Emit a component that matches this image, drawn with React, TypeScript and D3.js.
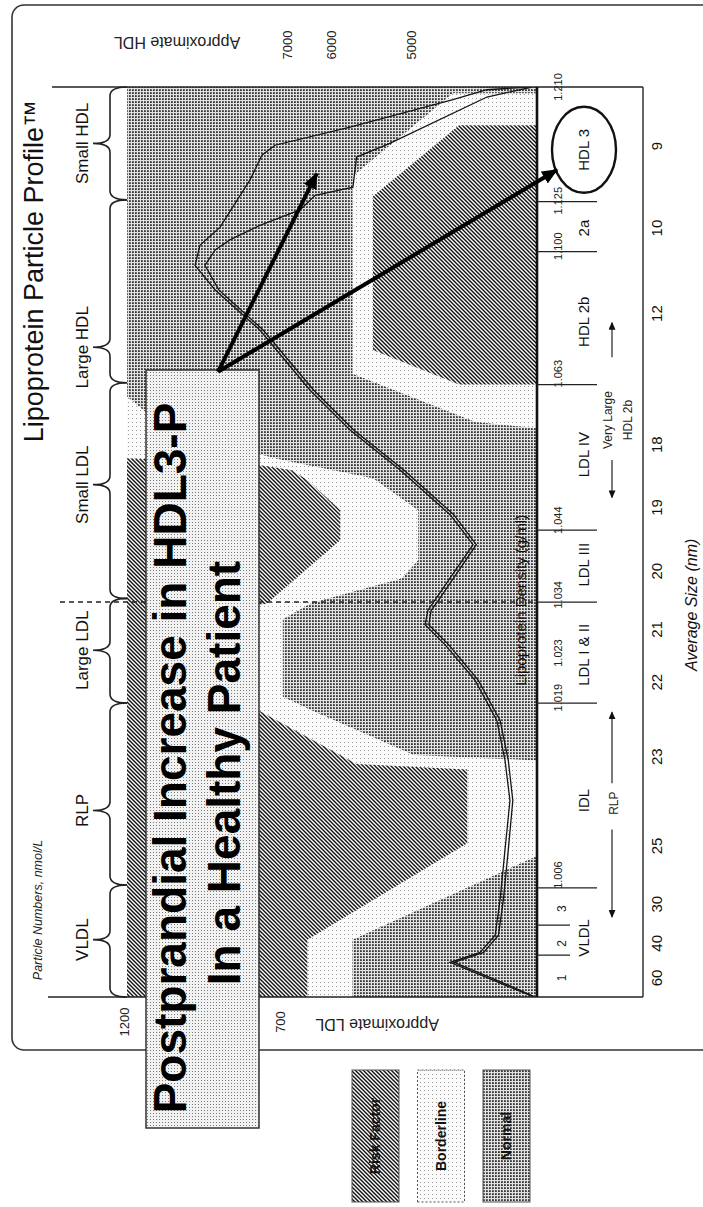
import React from 'react';
import * as d3 from 'd3';

// The figure is printed on its side. Everything below is laid out in a landscape
// frame (u along the size axis, v down the page) and the group is turned -90deg.
const W = 703;
const H = 1207;
const FONT = '"Liberation Sans", Arial, Helvetica, sans-serif';

// x: percent along the size/density axis (0 = large VLDL end), y: percent of particle scale
const sizeLabels = ['60', '40', '30', '25', '23', '22', '21', '20', '19', '18', '12', '10', '9'];
const sizePos = [2.1, 5.9, 10.2, 16.6, 26.4, 34.6, 40.4, 46.8, 53.8, 60.7, 75.1, 84.5, 93.5];

const densityLabels = ['1.006', '1.019', '1.023', '1.034', '1.044', '1.063', '1.100', '1.125', '1.210'];
const densityPos = [13.4, 32.9, 37.8, 44.2, 52.4, 68.5, 82.5, 87.5, 100];

const fractionBounds = [12.0, 32.3, 43.4, 51.3, 67.3, 81.9, 87.4];
const vldlSubBounds = [4.6, 7.9];
const vldlSubLabels = ['1', '2', '3'];
const vldlSubPos = [2.1, 5.9, 9.7];

const fractionLabels = ['VLDL', 'IDL', 'LDL I & II', 'LDL III', 'LDL IV', 'HDL 2b', '2a', 'HDL 3'];
const fractionPos = [6.5, 21.6, 37.6, 47.5, 59.6, 74.2, 84.5, 93.1];

const classLabels = ['VLDL', 'RLP', 'Large LDL', 'Small LDL', 'Large HDL', 'Small HDL'];
const classTips = [6.3, 20.5, 38.1, 56.3, 71.4, 93.8];
const classBounds = [0, 12.3, 32.3, 43.8, 67.5, 87.6, 100];

const ldlTickLabels = ['1200', '700'];
const ldlTickPos = [100.7, 62.7];
const hdlTickLabels = ['7000', '6000', '5000'];
const hdlTickPos = [61.0, 50.2, 30.7];

const dashedAt = 43.4;

// zone edges
const ldlRiskEdge = [[0, 56], [6.3, 56], [16.9, 17], [25, 17], [25.6, 44], [31.5, 68], [33, 88], [42.6, 88], [43.2, 66], [50.2, 48], [53.5, 48], [56.8, 56], [57.9, 60], [58.6, 70], [59.2, 100]];
const ldlBorderEdge = [[0, 45], [6.3, 45], [15.5, 0], [26, 0], [26.6, 30], [31.5, 55], [33, 62], [41.5, 62], [43.3, 55], [46, 33], [48, 29], [53.5, 29], [57, 40], [59, 62], [61, 80], [63, 92], [66, 100]];
const hdlBorderTop = [[62.5, 0], [63.2, 15], [68.5, 45], [90.2, 45], [99.3, 20.5], [99.3, 0]];
const hdlRiskTop = [[67.3, 0], [67.3, 19], [71.1, 40], [88, 40], [95.8, 19], [95.8, 0]];

// particle profiles, after the meal and before it
const postProfile = [[0, 0.7], [1.3, 7.8], [3.8, 21.2], [4.9, 13.9], [6.8, 10.2], [10.7, 9.0], [16.2, 7.8], [21.6, 6.6], [26.0, 7.8], [30.4, 9.8], [34.8, 15.1], [38.7, 22.4], [40.9, 27.3], [42.5, 26.6], [43.6, 24.9], [49.7, 15.6], [53.0, 21.2], [57.9, 33.4], [62.3, 45.6], [66.7, 55.4], [73.3, 67.6], [77.7, 78.5], [80.4, 83.4], [82.6, 82.2], [84.6, 77.3], [89.8, 70.0], [92.5, 67.1], [93.6, 63.9], [95.6, 45.6], [98.6, 20.5], [99.7, 12.2], [100, 1.7]];
const preProfile = [[0, 0.4], [1.3, 7.0], [3.8, 20.2], [4.9, 13.0], [6.8, 9.4], [10.7, 8.2], [16.2, 7.0], [21.6, 5.9], [26.0, 7.0], [30.4, 9.0], [34.8, 14.3], [38.7, 21.5], [40.9, 26.4], [42.5, 25.8], [43.6, 24.0], [49.7, 14.8], [53.0, 20.3], [57.9, 32.5], [62.3, 44.7], [66.7, 54.5], [73.3, 66.8], [77.7, 77.6], [80.4, 81.0], [82.1, 78.5], [83.2, 74.9], [84.8, 67.6], [86.5, 57.8], [88.1, 54.1], [89.0, 44.9], [92.3, 44.0], [93.8, 35.9], [98.9, 12.2], [100, 1.2]];

// callout arrows
const arrowStart = [68.7, 77.8];
const arrowEnds = [[90.5, 53.7], [90.9, -4.9]];

const legendLabels = ['Risk Factor', 'Borderline', 'Normal'];
const legendFills = ['url(#risk)', 'url(#border)', 'url(#normal)'];

const App: React.FC = () => {
  const x = d3.scaleLinear().domain([0, 100]).range([210, 1120]);
  const y = d3.scaleLinear().domain([0, 100]).range([537, 127]);

  const fromTop = d3.area<number[]>().x(d => x(d[0])).y0(d => y(d[1])).y1(y(100));
  const fromBottom = d3.area<number[]>().x(d => x(d[0])).y0(y(0)).y1(d => y(d[1]));
  const profile = d3.line<number[]>().x(d => x(d[0])).y(d => y(d[1]));

  // curly brace lying over the plot, tip pointing at its label
  const brace = (a: number, t: number, b: number) => {
    const vb = 127, vm = 110, vt = 93, r = 9;
    return `M${a},${vb} Q${a},${vm} ${a + r},${vm} L${t - r},${vm} Q${t},${vm} ${t},${vt} Q${t},${vm} ${t + r},${vm} L${b - r},${vm} Q${b},${vm} ${b},${vb}`;
  };

  return (
    <svg width={W} height={H} style={{ position: 'absolute', left: 0, top: 0, background: '#fff' }} fontFamily={FONT}>
      <defs>
        <pattern id="risk" width="4" height="4" patternUnits="userSpaceOnUse">
          <rect width="4" height="4" fill="#fff" />
          <path d="M-1,1 l2,-2 M0,4 l4,-4 M3,5 l2,-2" stroke="#161616" strokeWidth="1.5" />
        </pattern>
        <pattern id="normal" width="3" height="3" patternUnits="userSpaceOnUse">
          <rect width="3" height="3" fill="#e2e2e2" />
          <rect width="1.8" height="1.8" fill="#353535" />
        </pattern>
        <pattern id="border" width="4" height="4" patternUnits="userSpaceOnUse">
          <rect width="4" height="4" fill="#fbfbfb" />
          <rect width="1" height="1" fill="#9a9a9a" />
        </pattern>
        <pattern id="note" width="3" height="3" patternUnits="userSpaceOnUse">
          <rect width="3" height="3" fill="#f2f2f2" />
          <rect width="1" height="1" fill="#7a7a7a" />
        </pattern>
        <marker id="bigHead" viewBox="0 0 16 14" markerWidth="16" markerHeight="14" refX="15" refY="7" orient="auto" markerUnits="userSpaceOnUse">
          <path d="M0,0 L16,7 L0,14 Z" fill="#000" />
        </marker>
        <marker id="smallHead" viewBox="0 0 8 7" markerWidth="8" markerHeight="7" refX="7" refY="3.5" orient="auto" markerUnits="userSpaceOnUse">
          <path d="M0,0 L8,3.5 L0,7 Z" fill="#111" />
        </marker>
        <clipPath id="plotClip">
          <rect x={x(0)} y={y(100)} width={x(100) - x(0)} height={y(0) - y(100)} />
        </clipPath>
      </defs>

      <g transform={`translate(0,${H}) rotate(-90)`}>
        {/* legend, under the frame */}
        {legendLabels.map((lab, i) => (
          <g key={lab}>
            <rect x={5} y={352 + i * 65.5} width={132} height={47} fill={legendFills[i]}
              stroke="#555" strokeWidth={1} strokeDasharray={i === 1 ? '2,2' : undefined} />
            <text x={71} y={352 + i * 65.5 + 28} textAnchor="middle" fontSize={14} fontWeight="bold" fill="#111">{lab}</text>
          </g>
        ))}

        {/* outer frame */}
        <rect x={157} y={12} width={1045} height={760} rx={12} fill="none" stroke="#333" strokeWidth={1.6} />
        <text x={1107} y={43} textAnchor="end" fontSize={27} fill="#111">Lipoprotein Particle Profile™</text>
        <text x={297} y={42} textAnchor="middle" fontSize={12.5} fontStyle="italic" fill="#222">Particle Numbers, nmol/L</text>

        {/* zones */}
        <g clipPath="url(#plotClip)">
          <rect x={x(0)} y={y(100)} width={x(100) - x(0)} height={y(0) - y(100)} fill="url(#normal)" />
          <path d={fromTop(ldlBorderEdge) || ''} fill="url(#border)" />
          <path d={fromTop(ldlRiskEdge) || ''} fill="url(#risk)" />
          <path d={fromBottom(hdlBorderTop) || ''} fill="url(#border)" />
          <path d={fromBottom(hdlRiskTop) || ''} fill="url(#risk)" />
          <path d={profile(postProfile) || ''} fill="none" stroke="#151515" strokeWidth={1.3} />
          <path d={profile(preProfile) || ''} fill="none" stroke="#151515" strokeWidth={1.3} />
        </g>

        {/* class braces and names */}
        {classLabels.map((lab, i) => (
          <g key={lab}>
            <path d={brace(x(classBounds[i]), x(classTips[i]), x(classBounds[i + 1]))} fill="none" stroke="#222" strokeWidth={1.6} />
            <text x={x(classTips[i])} y={88} textAnchor="middle" fontSize={17} fill="#111">{lab}</text>
          </g>
        ))}

        <line x1={x(dashedAt)} x2={x(dashedAt)} y1={60} y2={y(0)} stroke="#222" strokeWidth={1.5} strokeDasharray="5,4" />

        {/* side scales */}
        {ldlTickLabels.map((lab, i) => (
          <text key={lab} x={185} y={y(ldlTickPos[i]) + 5} textAnchor="middle" fontSize={13} fill="#222">{lab}</text>
        ))}
        <text transform={`translate(188,${y(39)}) rotate(-90)`} textAnchor="middle" fontSize={16} fill="#222">Approximate LDL</text>
        {hdlTickLabels.map((lab, i) => (
          <text key={lab} x={1162} y={y(hdlTickPos[i]) + 5} textAnchor="middle" fontSize={13} fill="#222">{lab}</text>
        ))}
        <text transform={`translate(1170,${y(87.8)}) rotate(-90)`} textAnchor="middle" fontSize={16} fill="#222">Approximate HDL</text>

        {/* axis box */}
        <line x1={x(0)} x2={x(0)} y1={48} y2={643} stroke="#222" strokeWidth={1.5} />
        <line x1={x(100)} x2={x(100)} y1={52} y2={643} stroke="#222" strokeWidth={1.5} />
        <line x1={x(0)} x2={x(100)} y1={643} y2={643} stroke="#333" strokeWidth={1.5} />
        <line x1={x(0)} x2={x(100)} y1={y(0)} y2={y(0)} stroke="#111" strokeWidth={2.6} />
        <text x={x(43.6)} y={526} textAnchor="middle" fontSize={15} fill="#111">Lipoprotein Density (g/ml)</text>

        {fractionBounds.map(b => (
          <line key={b} x1={x(b)} x2={x(b)} y1={y(0)} y2={597} stroke="#222" strokeWidth={1.3} />
        ))}
        {vldlSubBounds.map(b => (
          <line key={b} x1={x(b)} x2={x(b)} y1={y(0)} y2={570} stroke="#222" strokeWidth={1.3} />
        ))}
        {densityLabels.map((lab, i) => (
          <text key={lab} x={x(densityPos[i])} y={562} textAnchor="middle" fontSize={11} fill="#222">{lab}</text>
        ))}
        {vldlSubLabels.map((lab, i) => (
          <text key={lab} x={x(vldlSubPos[i])} y={566} textAnchor="middle" fontSize={12} fill="#222">{lab}</text>
        ))}
        {fractionLabels.map((lab, i) => (
          <text key={lab} x={x(fractionPos[i])} y={589} textAnchor="middle" fontSize={15} fill="#111">{lab}</text>
        ))}
        <ellipse cx={x(93.1)} cy={584} rx={43} ry={32} fill="none" stroke="#111" strokeWidth={2.4} />

        <text x={x(21.3)} y={618} textAnchor="middle" fontSize={12} fill="#222">RLP</text>
        <line x1={x(18.4)} x2={x(8.8)} y1={612} y2={612} stroke="#222" strokeWidth={1.2} markerEnd="url(#smallHead)" />
        <line x1={x(23.5)} x2={x(31.3)} y1={612} y2={612} stroke="#222" strokeWidth={1.2} markerEnd="url(#smallHead)" />
        <text x={x(63.4)} y={612} textAnchor="middle" fontSize={12} fill="#222">Very Large</text>
        <text x={x(63.4)} y={632} textAnchor="middle" fontSize={12} fill="#222">HDL 2b</text>
        <line x1={x(59.0)} x2={x(54.9)} y1={612} y2={612} stroke="#222" strokeWidth={1.2} markerEnd="url(#smallHead)" />
        <line x1={x(70.3)} x2={x(74.1)} y1={612} y2={612} stroke="#222" strokeWidth={1.2} markerEnd="url(#smallHead)" />

        {sizeLabels.map((lab, i) => (
          <text key={lab} x={x(sizePos[i])} y={662} textAnchor="middle" fontSize={15} fill="#111">{lab}</text>
        ))}
        <text x={x(43.1)} y={697} textAnchor="middle" fontSize={16} fontStyle="italic" fill="#111">Average Size (nm)</text>

        {/* callout */}
        <rect x={79} y={146} width={758} height={113} fill="url(#note)" stroke="#333" strokeWidth={1.5} />
        <text x={449} y={186} textAnchor="middle" fontSize={46} fontWeight="bold" fill="#000">Postprandial Increase in HDL3-P</text>
        <text x={434} y={240} textAnchor="middle" fontSize={46} fontWeight="bold" fill="#000">In a Healthy Patient</text>
        {arrowEnds.map((e, i) => (
          <line key={i} x1={x(arrowStart[0])} y1={y(arrowStart[1])} x2={x(e[0])} y2={y(e[1])}
            stroke="#000" strokeWidth={4} markerEnd="url(#bigHead)" />
        ))}
      </g>
    </svg>
  );
};

export default App;
